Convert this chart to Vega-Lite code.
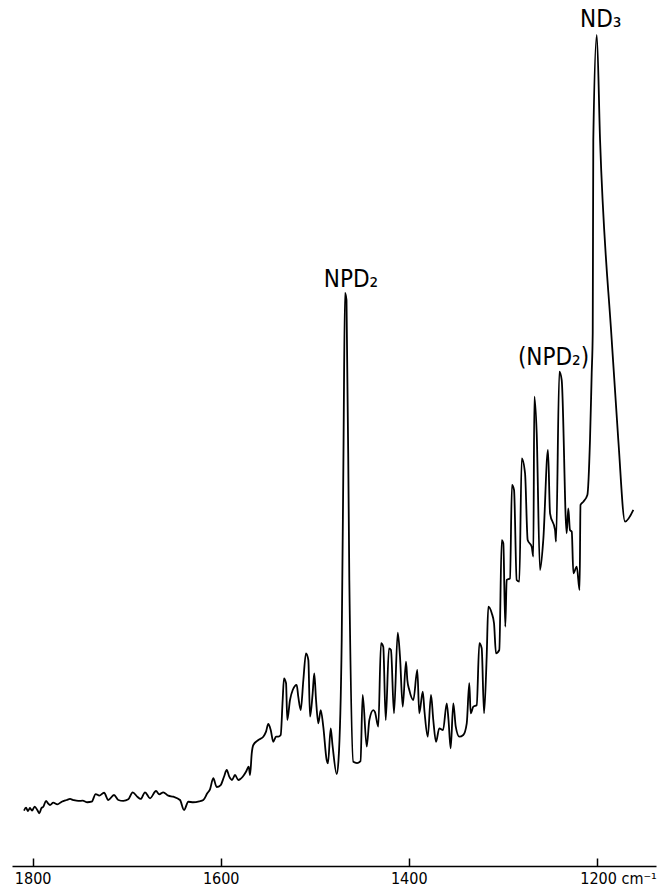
{
  "$schema": "https://vega.github.io/schema/vega-lite/v6.json",
  "width": 644,
  "height": 866,
  "autosize": {"type": "none"},
  "padding": {"left": 12, "top": 0, "right": 6, "bottom": 25},
  "background": "white",
  "config": {"view": {"stroke": null}},
  "datasets": {
    "spectrum": [
      {"wn": 1809.2, "a": 6.39}, {"wn": 1807.1, "a": 6.73}, {"wn": 1805.0, "a": 6.35}, {"wn": 1802.9, "a": 6.70},
      {"wn": 1800.7, "a": 6.39}, {"wn": 1797.9, "a": 6.85}, {"wn": 1795.1, "a": 6.47}, {"wn": 1793.0, "a": 6.09},
      {"wn": 1790.8, "a": 6.66}, {"wn": 1788.7, "a": 6.85}, {"wn": 1785.8, "a": 7.51}, {"wn": 1783.7, "a": 7.24},
      {"wn": 1781.6, "a": 7.04}, {"wn": 1778.1, "a": 7.31}, {"wn": 1773.8, "a": 7.12}, {"wn": 1769.1, "a": 7.42},
      {"wn": 1763.8, "a": 7.62}, {"wn": 1760.3, "a": 7.74}, {"wn": 1756.8, "a": 7.62}, {"wn": 1751.5, "a": 7.51},
      {"wn": 1746.8, "a": 7.54}, {"wn": 1741.9, "a": 7.36}, {"wn": 1737.2, "a": 7.42}, {"wn": 1733.0, "a": 8.31},
      {"wn": 1729.1, "a": 8.12}, {"wn": 1724.1, "a": 8.46}, {"wn": 1719.6, "a": 7.62}, {"wn": 1713.5, "a": 8.20},
      {"wn": 1708.9, "a": 7.62}, {"wn": 1703.6, "a": 7.51}, {"wn": 1698.3, "a": 7.70}, {"wn": 1693.6, "a": 8.51},
      {"wn": 1688.7, "a": 8.00}, {"wn": 1685.1, "a": 7.74}, {"wn": 1680.5, "a": 8.51}, {"wn": 1675.2, "a": 7.82},
      {"wn": 1668.8, "a": 8.66}, {"wn": 1665.3, "a": 8.28}, {"wn": 1661.1, "a": 8.51}, {"wn": 1655.7, "a": 8.12},
      {"wn": 1650.4, "a": 8.00}, {"wn": 1643.3, "a": 7.62}, {"wn": 1639.0, "a": 6.47}, {"wn": 1634.5, "a": 7.42},
      {"wn": 1629.2, "a": 7.36}, {"wn": 1622.8, "a": 7.47}, {"wn": 1618.5, "a": 7.62}, {"wn": 1614.3, "a": 8.39},
      {"wn": 1611.4, "a": 8.86}, {"wn": 1607.9, "a": 10.13}, {"wn": 1604.3, "a": 9.12}, {"wn": 1600.0, "a": 9.35},
      {"wn": 1596.5, "a": 10.31}, {"wn": 1593.6, "a": 11.09}, {"wn": 1590.9, "a": 10.31}, {"wn": 1588.0, "a": 9.93},
      {"wn": 1584.8, "a": 10.51}, {"wn": 1581.3, "a": 9.93}, {"wn": 1576.6, "a": 10.31}, {"wn": 1573.1, "a": 10.89},
      {"wn": 1570.2, "a": 11.47}, {"wn": 1568.8, "a": 10.51}, {"wn": 1567.0, "a": 13.01}, {"wn": 1565.3, "a": 13.97},
      {"wn": 1560.0, "a": 14.55}, {"wn": 1554.7, "a": 14.93}, {"wn": 1551.8, "a": 15.51}, {"wn": 1549.4, "a": 16.40},
      {"wn": 1546.8, "a": 15.70}, {"wn": 1544.1, "a": 14.35}, {"wn": 1541.2, "a": 14.93}, {"wn": 1538.7, "a": 14.93},
      {"wn": 1536.2, "a": 15.13}, {"wn": 1534.1, "a": 19.17}, {"wn": 1532.7, "a": 21.67}, {"wn": 1530.5, "a": 21.10},
      {"wn": 1529.2, "a": 16.86}, {"wn": 1526.3, "a": 19.17}, {"wn": 1523.4, "a": 20.32}, {"wn": 1519.2, "a": 20.90},
      {"wn": 1517.5, "a": 19.55}, {"wn": 1514.9, "a": 18.01}, {"wn": 1512.1, "a": 21.48}, {"wn": 1509.3, "a": 24.56},
      {"wn": 1506.8, "a": 23.79}, {"wn": 1505.0, "a": 17.24}, {"wn": 1502.2, "a": 19.94}, {"wn": 1500.5, "a": 22.25},
      {"wn": 1498.6, "a": 19.17}, {"wn": 1496.2, "a": 16.48}, {"wn": 1493.6, "a": 18.01}, {"wn": 1490.9, "a": 16.09},
      {"wn": 1487.3, "a": 12.24}, {"wn": 1485.9, "a": 11.86}, {"wn": 1483.0, "a": 15.90}, {"wn": 1481.1, "a": 13.97},
      {"wn": 1476.6, "a": 10.62}, {"wn": 1474.7, "a": 12.24}, {"wn": 1471.3, "a": 26.10}, {"wn": 1469.4, "a": 48.04},
      {"wn": 1467.8, "a": 66.17}, {"wn": 1466.2, "a": 65.36}, {"wn": 1463.2, "a": 33.03}, {"wn": 1459.0, "a": 12.04},
      {"wn": 1455.0, "a": 11.89}, {"wn": 1451.3, "a": 12.12}, {"wn": 1449.0, "a": 19.75}, {"wn": 1444.7, "a": 13.78},
      {"wn": 1441.9, "a": 16.86}, {"wn": 1437.7, "a": 18.01}, {"wn": 1435.9, "a": 17.78}, {"wn": 1432.4, "a": 16.09},
      {"wn": 1429.5, "a": 25.72}, {"wn": 1427.1, "a": 25.32}, {"wn": 1424.5, "a": 16.86}, {"wn": 1421.0, "a": 25.14},
      {"wn": 1418.9, "a": 24.94}, {"wn": 1415.7, "a": 17.63}, {"wn": 1411.7, "a": 26.94}, {"wn": 1409.3, "a": 24.17},
      {"wn": 1406.4, "a": 18.39}, {"wn": 1402.9, "a": 23.59}, {"wn": 1401.5, "a": 21.48}, {"wn": 1399.4, "a": 20.32},
      {"wn": 1395.1, "a": 19.17}, {"wn": 1390.9, "a": 22.63}, {"wn": 1388.8, "a": 17.63}, {"wn": 1385.1, "a": 20.13},
      {"wn": 1383.2, "a": 17.78}, {"wn": 1379.8, "a": 14.93}, {"wn": 1376.3, "a": 19.75}, {"wn": 1373.9, "a": 16.86},
      {"wn": 1371.0, "a": 14.35}, {"wn": 1367.5, "a": 15.90}, {"wn": 1363.5, "a": 15.70}, {"wn": 1359.6, "a": 18.79},
      {"wn": 1357.7, "a": 16.86}, {"wn": 1355.4, "a": 13.59}, {"wn": 1352.6, "a": 18.79}, {"wn": 1350.0, "a": 16.09},
      {"wn": 1346.2, "a": 14.93}, {"wn": 1342.0, "a": 15.13}, {"wn": 1338.3, "a": 16.48}, {"wn": 1335.6, "a": 21.10},
      {"wn": 1334.1, "a": 17.63}, {"wn": 1331.3, "a": 18.39}, {"wn": 1327.7, "a": 18.59}, {"wn": 1324.9, "a": 25.72},
      {"wn": 1322.4, "a": 25.14}, {"wn": 1319.9, "a": 17.63}, {"wn": 1317.1, "a": 24.17}, {"wn": 1315.4, "a": 29.94},
      {"wn": 1311.7, "a": 29.18}, {"wn": 1309.3, "a": 28.03}, {"wn": 1307.2, "a": 24.56}, {"wn": 1303.7, "a": 24.94},
      {"wn": 1301.1, "a": 37.64}, {"wn": 1299.4, "a": 37.26}, {"wn": 1297.3, "a": 27.63}, {"wn": 1295.8, "a": 33.03},
      {"wn": 1292.3, "a": 33.22}, {"wn": 1290.2, "a": 44.00}, {"wn": 1288.0, "a": 43.42}, {"wn": 1285.2, "a": 33.03},
      {"wn": 1282.4, "a": 32.83}, {"wn": 1279.8, "a": 47.08}, {"wn": 1276.3, "a": 45.35}, {"wn": 1273.5, "a": 37.64},
      {"wn": 1269.2, "a": 36.87}, {"wn": 1267.5, "a": 35.72}, {"wn": 1266.4, "a": 54.19}, {"wn": 1263.9, "a": 49.97},
      {"wn": 1260.4, "a": 34.18}, {"wn": 1256.9, "a": 37.64}, {"wn": 1251.9, "a": 48.04}, {"wn": 1249.7, "a": 40.73},
      {"wn": 1244.4, "a": 38.80}, {"wn": 1243.3, "a": 37.45}, {"wn": 1239.8, "a": 57.08}, {"wn": 1237.3, "a": 56.12},
      {"wn": 1232.0, "a": 38.42}, {"wn": 1230.3, "a": 41.30}, {"wn": 1228.5, "a": 38.80}, {"wn": 1226.6, "a": 38.60},
      {"wn": 1224.9, "a": 33.80}, {"wn": 1221.3, "a": 34.56}, {"wn": 1218.3, "a": 31.87}, {"wn": 1217.3, "a": 41.69},
      {"wn": 1214.3, "a": 42.07}, {"wn": 1210.0, "a": 42.84}, {"wn": 1207.2, "a": 49.19}, {"wn": 1205.4, "a": 56.89},
      {"wn": 1204.3, "a": 61.55}, {"wn": 1203.7, "a": 83.83}, {"wn": 1200.0, "a": 95.96}, {"wn": 1196.5, "a": 83.83},
      {"wn": 1184.1, "a": 60.74}, {"wn": 1177.1, "a": 49.19}, {"wn": 1169.9, "a": 39.76}, {"wn": 1161.1, "a": 41.11}
    ],
    "labels": [
      {"wn": 1461.4, "a": 66.9, "text": "NPD₂"},
      {"wn": 1246.0, "a": 57.8, "text": "(NPD₂)"},
      {"wn": 1195.7, "a": 96.9, "text": "ND₃"}
    ]
  },
  "layer": [
    {
      "data": {"name": "spectrum"},
      "mark": {"type": "line", "color": "black", "strokeWidth": 1.8, "strokeJoin": "round", "interpolate": "monotone", "clip": false},
      "encoding": {
        "x": {
          "field": "wn", "type": "quantitative", "sort": null,
          "scale": {"domain": [1822, 1137], "nice": false, "zero": false},
          "axis": {
            "title": null,
            "values": [1800, 1600, 1400, 1200],
            "format": "d",
            "grid": false,
            "domainColor": "black", "domainWidth": 1.5,
            "tickColor": "black", "tickWidth": 1.5, "tickSize": -8,
            "labelPadding": 12,
            "labelFlush": false,
            "labelOverlap": false,
            "labelBound": false,
            "labelFont": "DejaVu Sans Condensed, Liberation Sans",
            "labelFontSize": 16,
            "labelColor": "black",
            "labelExpr": "datum.value == 1200 ? '1200 cm⁻¹' : datum.label",
            "labelAlign": {"condition": {"test": "datum.value == 1200", "value": "left"}, "value": "center"},
            "labelOffset": {"condition": {"test": "datum.value == 1200", "value": -17}, "value": 0}
          }
        },
        "y": {
          "field": "a", "type": "quantitative",
          "scale": {"domain": [0, 100], "nice": false, "zero": false},
          "axis": null
        }
      }
    },
    {
      "data": {"name": "labels"},
      "mark": {"type": "text", "align": "center", "baseline": "alphabetic", "font": "DejaVu Sans Condensed, Liberation Sans", "fontSize": 24, "color": "black"},
      "encoding": {
        "x": {"field": "wn", "type": "quantitative"},
        "y": {"field": "a", "type": "quantitative"},
        "text": {"field": "text"}
      }
    }
  ]
}
